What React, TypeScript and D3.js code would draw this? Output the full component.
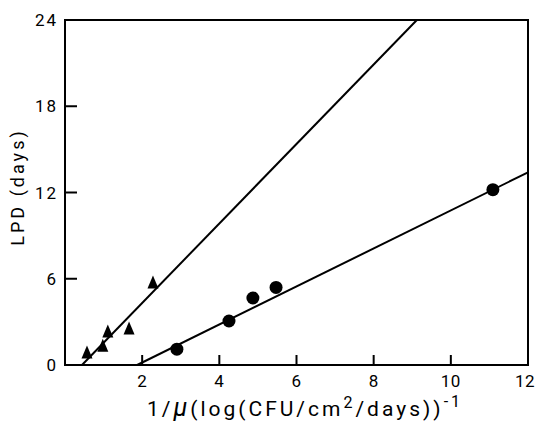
import React from "react";
import * as d3 from "d3";

const triX = [0.57, 0.98, 1.11, 1.66, 2.28];
const triY = [0.83, 1.3, 2.3, 2.5, 5.7];
const circX = [2.9, 4.25, 4.87, 5.47, 11.09];
const circY = [1.1, 3.06, 4.66, 5.4, 12.2];
const line1X = [0.44, 9.12];
const line1Y = [0, 24];
const line2X = [1.87, 12];
const line2Y = [0, 13.4];
const xTicks = [2, 4, 6, 8, 10, 12];
const yTicks = [0, 6, 12, 18, 24];
const xTickLabels = ["2", "4", "6", "8", "10", "12"];
const yTickLabels = ["0", "6", "12", "18", "24"];

const W = 537, H = 425;
const L = 65, R = 528, T = 20, B = 365;
const font = "Roboto, 'DejaVu Sans', sans-serif";

export default function App() {
  const x = d3.scaleLinear().domain([0, 12]).range([L, R]);
  const y = d3.scaleLinear().domain([0, 24]).range([B, T]);
  const line = d3.line<[number, number]>().x(d => x(d[0])).y(d => y(d[1]));
  const l1 = line1X.map((v, i) => [v, line1Y[i]] as [number, number]);
  const l2 = line2X.map((v, i) => [v, line2Y[i]] as [number, number]);
  const tri = (cx: number, cy: number) => `M${cx},${cy - 7.5}L${cx + 5.5},${cy + 5.5}L${cx - 5.5},${cy + 5.5}Z`;
  return (
    <svg width={W} height={H} style={{ position: "absolute", left: 0, top: 0, background: "#fff" }}>
      <rect x={0} y={0} width={W} height={H} fill="#fff" />
      <path d={line(l1) || ""} stroke="#000" strokeWidth={2} fill="none" />
      <path d={line(l2) || ""} stroke="#000" strokeWidth={2} fill="none" />
      <rect x={L} y={T} width={R - L} height={B - T} fill="none" stroke="#000" strokeWidth={2} />
      {xTicks.map((t, i) => (
        <g key={"xt" + i}>
          <line x1={x(t)} x2={x(t)} y1={B} y2={B - 10} stroke="#000" strokeWidth={2} />
          <text x={t === 12 ? x(t) - 3 : x(t)} y={387} textAnchor="middle" fontSize={17} fontFamily={font} letterSpacing={0.5}>{xTickLabels[i]}</text>
        </g>
      ))}
      {yTicks.map((t, i) => (
        <g key={"yt" + i}>
          <line x1={L} x2={L + 12} y1={y(t)} y2={y(t)} stroke="#000" strokeWidth={2} />
          <text x={58} y={y(t) + 6} textAnchor="end" fontSize={17} fontFamily={font} letterSpacing={2}>{yTickLabels[i]}</text>
        </g>
      ))}
      {triX.map((v, i) => (
        <path key={"t" + i} d={tri(x(v), y(triY[i]))} fill="#000" />
      ))}
      {circX.map((v, i) => (
        <circle key={"c" + i} cx={x(v)} cy={y(circY[i])} r={6.5} fill="#000" />
      ))}
      <text transform={`translate(24,187) rotate(-90)`} textAnchor="middle" fontSize={18} fontFamily={font} letterSpacing={3}>LPD (days)</text>
      <text x={147} y={416} fontSize={21} fontFamily={font} letterSpacing={3}>
        1/<tspan fontSize={25} fontStyle="italic">μ</tspan><tspan>(log(CFU/cm</tspan><tspan dy={-8} fontSize={16}>2</tspan><tspan dy={8}>/days))</tspan><tspan dy={-9} fontSize={16}>-1</tspan>
      </text>
    </svg>
  );
}
